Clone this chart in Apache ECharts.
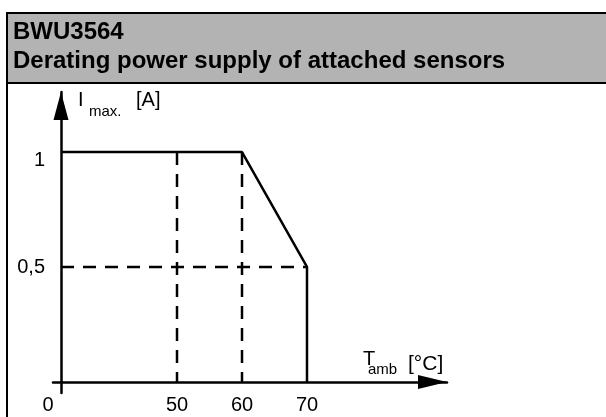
<!DOCTYPE html>
<html><head><meta charset="utf-8">
<script src="https://cdn.jsdelivr.net/npm/echarts@6/dist/echarts.min.js"></script>
<style>html,body{margin:0;padding:0;background:#fff}#c{width:606px;height:417px}</style>
</head><body><div id="c"></div>
<script>
// ---- data ----
const titleLines = ['BWU3564', 'Derating power supply of attached sensors'];
const xTickValues = [0, 50, 60, 70];
const yTickValues = [0.5, 1];
const curveT = [0, 60, 70, 70];
const curveI = [1, 1, 0.5, 0];
const refT = [50, 60];
const refI = 0.5;
const xTitle = ['T', 'amb', '[°C]'];
const yTitle = ['I', 'max.', '[A]'];

const FONT = "'Liberation Sans', Arial, sans-serif";
const chart = echarts.init(document.getElementById('c'), null, {renderer: 'canvas'});

const curve = curveT.map((t, i) => [t, curveI[i]]);
const iMax = Math.max(...curveI);
const tEnd = curveT[curveT.length - 1];
const dashed = refT.map(t => [[t, iMax], [t, 0]]);
dashed.push([[0, refI], [tEnd, refI]]);

const series = [{
  type: 'line', data: curve, symbol: 'none', animation: false, z: 5,
  lineStyle: {color: '#000', width: 2.5}
}].concat(dashed.map(d => ({
  type: 'line', data: d, symbol: 'none', animation: false, z: 4,
  lineStyle: {color: '#000', width: 2.5, type: [13, 9]}
})));

const axisLineStyle = {color: '#000', width: 2.5};

chart.setOption({
  animation: false,
  grid: {left: 53, right: 159, top: 92, bottom: 24, outerBoundsMode: 'none', containLabel: false},
  xAxis: [{
    type: 'value', min: -1.23, max: 91.54,
    breaks: [{start: 0, end: 50, gap: 17.85}],
    breakArea: {show: false},
    axisLine: {show: false, onZero: true, onZeroAxisIndex: 0},
    axisTick: {show: false},
    splitLine: {show: false},
    axisLabel: {
      customValues: xTickValues, margin: 2, color: '#000', fontSize: 20, fontFamily: FONT,
      formatter: v => v === 0 ? '{o|0}' : String(v),
      rich: {o: {fontSize: 20, fontFamily: FONT, color: '#000', padding: [0, 26, 0, 0]}}
    }
  }, {
    // continuous axis line with arrow head (same pixel extent as the main x axis)
    type: 'value', min: 0, max: 1, position: 'bottom',
    axisLine: {show: true, onZero: true, onZeroAxisIndex: 0, symbol: ['none', 'triangle'], symbolSize: [14, 29], symbolOffset: [0, -14.5], lineStyle: axisLineStyle},
    axisTick: {show: false}, axisLabel: {show: false}, splitLine: {show: false}
  }],
  yAxis: {
    type: 'value', min: -0.048, max: 1.261,
    axisLine: {show: true, onZero: true, onZeroAxisIndex: 0, symbol: ['none', 'triangle'], symbolSize: [15, 28], symbolOffset: [0, -14], lineStyle: axisLineStyle},
    axisTick: {show: false},
    splitLine: {show: false},
    axisLabel: {
      customValues: yTickValues, margin: 8, color: '#000', fontSize: 20, fontFamily: FONT,
      formatter: v => v === 1 ? '{d|1}' : String(v).replace('.', ','),
      rich: {d: {fontSize: 20, fontFamily: FONT, color: '#000', padding: [16, 0, 0, 0]}}
    }
  },
  graphic: [
    {type: 'rect', z: -10, shape: {x: 7, y: 13, width: 650, height: 450}, style: {fill: '#fff', stroke: '#000', lineWidth: 2}},
    {type: 'rect', z: -9, shape: {x: 7, y: 13, width: 650, height: 70}, style: {fill: '#b3b3b3', stroke: '#000', lineWidth: 2}},
    {type: 'text', z: 10, style: {text: titleLines[0], x: 13, y: 32, font: 'bold 24px ' + FONT, fill: '#000', textVerticalAlign: 'middle'}},
    {type: 'text', z: 10, style: {text: titleLines[1], x: 13, y: 61, font: 'bold 24px ' + FONT, fill: '#000', textVerticalAlign: 'middle'}},
    {type: 'text', z: 10, style: {text: yTitle[0], x: 78, y: 100, font: '20px ' + FONT, fill: '#000', textVerticalAlign: 'middle'}},
    {type: 'text', z: 10, style: {text: yTitle[1], x: 89, y: 112, font: '15px ' + FONT, fill: '#000', textVerticalAlign: 'middle'}},
    {type: 'text', z: 10, style: {text: yTitle[2], x: 136, y: 100, font: '20px ' + FONT, fill: '#000', textVerticalAlign: 'middle'}},
    {type: 'text', z: 10, style: {text: xTitle[0], x: 363, y: 359, font: '20px ' + FONT, fill: '#000', textVerticalAlign: 'middle'}},
    {type: 'text', z: 10, style: {text: xTitle[1], x: 368, y: 370, font: '15px ' + FONT, fill: '#000', textVerticalAlign: 'middle'}},
    {type: 'text', z: 10, style: {text: xTitle[2], x: 408, y: 364, font: '21px ' + FONT, fill: '#000', textVerticalAlign: 'middle'}}
  ],
  series: series
});
</script></body></html>
